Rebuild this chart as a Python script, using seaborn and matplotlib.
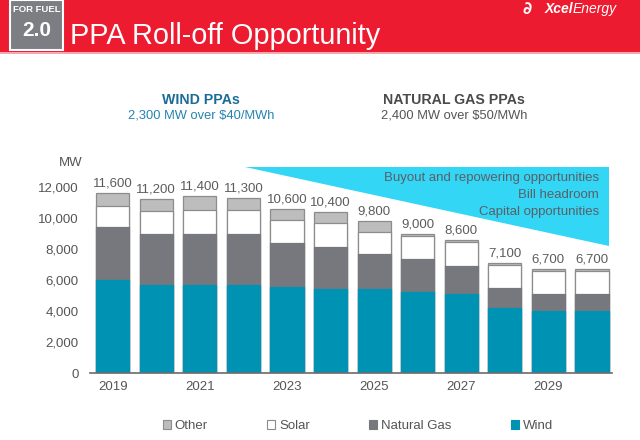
import matplotlib
matplotlib.use("Agg")
import matplotlib.pyplot as plt
import seaborn as sns
import numpy as np
import pandas as pd
from matplotlib.patches import Rectangle, Polygon, Patch

years = ["2019", "2020", "2021", "2022", "2023", "2024", "2025", "2026", "2027", "2028", "2029", "2030"]
wind = [6000, 5700, 5700, 5700, 5550, 5450, 5400, 5250, 5100, 4200, 4000, 4000]
gas = [3400, 3300, 3300, 3300, 2850, 2700, 2250, 2100, 1800, 1300, 1100, 1100]
solar = [1400, 1450, 1500, 1500, 1500, 1550, 1450, 1500, 1550, 1450, 1450, 1450]
other = [800, 750, 900, 800, 700, 700, 700, 150, 150, 150, 150, 150]
totals = [11600, 11200, 11400, 11300, 10600, 10400, 9800, 9000, 8600, 7100, 6700, 6700]
tick_years = ["2019", "2021", "2023", "2025", "2027", "2029"]
yticks = [0, 2000, 4000, 6000, 8000, 10000, 12000]

sns.set_theme(style="white")
plt.rcParams['font.family'] = ['Liberation Sans', 'DejaVu Sans']

C_WIND = "#0092b3"
C_GAS = "#76787e"
C_SOLAR = "#ffffff"
C_OTHER = "#bdbdbd"
C_EDGE = "#8c8c8c"
C_TXT = "#555555"

df = pd.DataFrame({"year": years, "wind": wind, "gas": gas, "solar": solar, "other": other})
df["c_gas"] = df["wind"] + df["gas"]
df["c_solar"] = df["c_gas"] + df["solar"]
df["c_other"] = df["c_solar"] + df["other"]

fig = plt.figure(figsize=(6.4, 4.4), dpi=100)
W, H = 640, 440
ax = fig.add_axes([90 / W, 1 - 373 / H, (612 - 90) / W, (373 - 165.3) / H])

bw = 0.76
sns.barplot(data=df, x="year", y="c_other", color=C_OTHER, saturation=1, width=bw,
            edgecolor=C_EDGE, linewidth=0.9, ax=ax)
sns.barplot(data=df, x="year", y="c_solar", color=C_SOLAR, saturation=1, width=bw,
            edgecolor=C_EDGE, linewidth=0.9, ax=ax)
sns.barplot(data=df, x="year", y="c_gas", color=C_GAS, saturation=1, width=bw,
            edgecolor=C_GAS, linewidth=0.9, ax=ax)
sns.barplot(data=df, x="year", y="wind", color=C_WIND, saturation=1, width=bw,
            edgecolor=C_WIND, linewidth=0.9, ax=ax)

ax.set_xlim(-0.52, 11.46)
ax.set_ylim(0, 13400)
ax.set_xlabel("")
ax.set_ylabel("")
ax.set_yticks(yticks)
ax.set_yticklabels([f"{v:,}" for v in yticks], color=C_TXT, fontsize=9.5)
pos = [years.index(y) for y in tick_years]
ax.set_xticks(pos)
ax.set_xticklabels(tick_years, color=C_TXT, fontsize=9.5)
ax.tick_params(axis="y", length=0, pad=8)
ax.tick_params(axis="x", length=0, pad=6)
for s in ["left", "top", "right"]:
    ax.spines[s].set_visible(False)
ax.spines["bottom"].set_color("#6b6b6b")
ax.spines["bottom"].set_linewidth(1.2)

# value labels
for i, t in enumerate(totals):
    ax.text(i, t + 220, f"{t:,}", ha="center", va="bottom", fontsize=9.5, color="#5c5c5c")

# cyan triangle
tri = Polygon([[3.03, 13300], [11.38, 13300], [11.38, 8200]], closed=True,
              facecolor="#33d6f5", edgecolor="none", zorder=0.5, clip_on=False)
ax.add_patch(tri)
for txt, yy in [("Buyout and repowering opportunities", 178),
                ("Bill headroom", 195),
                ("Capital opportunities", 212)]:
    fig.text(599 / W, 1 - yy / H, txt, ha="right", va="center", fontsize=9.5, color="#5a6068")

fig.text(82 / W, 1 - 163 / H, "MW", ha="right", va="center", fontsize=9.5, color=C_TXT)

# subtitles
fig.text(201 / W, 1 - 100 / H, "WIND PPAs", ha="center", va="center", fontsize=10.2,
         fontweight="bold", color="#1b6c97")
fig.text(201 / W, 1 - 115 / H, "2,300 MW over $40/MWh", ha="center", va="center",
         fontsize=9.3, color="#2483b0")
fig.text(454 / W, 1 - 100 / H, "NATURAL GAS PPAs", ha="center", va="center", fontsize=10.2,
         fontweight="bold", color="#4a4a4a")
fig.text(454 / W, 1 - 115 / H, "2,400 MW over $50/MWh", ha="center", va="center",
         fontsize=9.3, color="#555555")

# header band
fig.patches.append(Rectangle((0, 1 - 52 / H), 1, 52 / H, transform=fig.transFigure,
                             facecolor="#ed1b2f", edgecolor="none", zorder=0))
fig.patches.append(Rectangle((0, 1 - 54 / H), 1, 2 / H, transform=fig.transFigure,
                             facecolor="#f7a7ae", edgecolor="none", zorder=0))
fig.patches.append(Rectangle((10 / W, 1 - 50 / H), 53 / W, 50 / H, transform=fig.transFigure,
                             facecolor="#7b7f84", edgecolor="white", linewidth=1.5, zorder=1))
fig.text(36.5 / W, 1 - 10 / H, "FOR FUEL", ha="center", va="center", fontsize=6.8,
         fontweight="bold", color="white")
fig.text(36.5 / W, 1 - 30 / H, "2.0", ha="center", va="center", fontsize=15,
         fontweight="bold", color="white")
fig.text(70 / W, 1 - 36 / H, "PPA Roll-off Opportunity", ha="left", va="center",
         fontsize=20.8, color="white")
fig.text(545 / W, 1 - 9 / H, "Xcel", ha="left", va="center", fontsize=10,
         fontweight="bold", fontstyle="italic", color="white")
fig.text(573 / W, 1 - 9 / H, "Energy", ha="left", va="center", fontsize=10,
         fontstyle="italic", color="white")
fig.text(527 / W, 1 - 9 / H, "\u2202", ha="center", va="center", fontsize=12,
         fontweight="bold", color="white", family=["DejaVu Sans"])

# legend
handles = [Patch(facecolor=C_OTHER, edgecolor=C_EDGE, linewidth=0.8, label="Other"),
           Patch(facecolor=C_SOLAR, edgecolor=C_EDGE, linewidth=0.8, label="Solar"),
           Patch(facecolor=C_GAS, edgecolor=C_GAS, linewidth=0.8, label="Natural Gas"),
           Patch(facecolor=C_WIND, edgecolor=C_WIND, linewidth=0.8, label="Wind")]
fig.legend(handles=handles, loc="center", bbox_to_anchor=(358 / W, 1 - 426 / H), ncol=4,
           frameon=False, fontsize=9.5, handlelength=0.6, handleheight=0.6,
           handletextpad=0.3, columnspacing=4.5, labelcolor=C_TXT)

fig.savefig("out.png", dpi=100)
